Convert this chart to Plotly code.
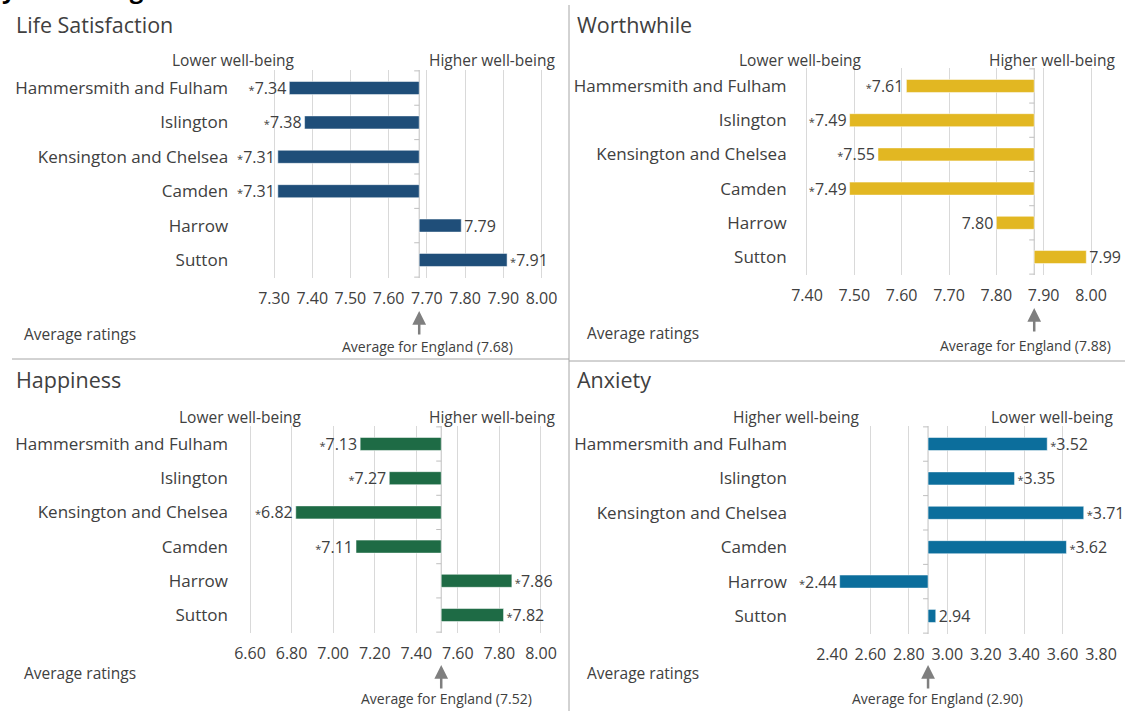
import plotly.graph_objects as go

W, H = 1125, 711

# ---------------- data ----------------
boroughs = ["Hammersmith and Fulham", "Islington", "Kensington and Chelsea",
            "Camden", "Harrow", "Sutton"]

life_values = [7.34, 7.38, 7.31, 7.31, 7.79, 7.91]
life_sig = [True, True, True, True, False, True]
life_avg = 7.68

worth_values = [7.61, 7.49, 7.55, 7.49, 7.80, 7.99]
worth_sig = [True, True, True, True, False, False]
worth_avg = 7.88

happy_values = [7.13, 7.27, 6.82, 7.11, 7.86, 7.82]
happy_sig = [True, True, True, True, True, True]
happy_avg = 7.52

anx_values = [3.52, 3.35, 3.71, 3.62, 2.44, 2.94]
anx_sig = [True, True, True, True, True, False]
anx_avg = 2.90

titles = ["Life Satisfaction", "Worthwhile", "Happiness", "Anxiety"]
left_labels = ["Lower well-being", "Lower well-being", "Lower well-being", "Higher well-being"]
right_labels = ["Higher well-being", "Higher well-being", "Higher well-being", "Lower well-being"]
x_ticks = [
    [7.30, 7.40, 7.50, 7.60, 7.70, 7.80, 7.90, 8.00],
    [7.40, 7.50, 7.60, 7.70, 7.80, 7.90, 8.00],
    [6.60, 6.80, 7.00, 7.20, 7.40, 7.60, 7.80, 8.00],
    [2.40, 2.60, 2.80, 3.00, 3.20, 3.40, 3.60, 3.80],
]
colors = ["#1F4E79", "#E2B722", "#1E6B45", "#0C6E9C"]

panels_data = [
    (life_values, life_sig, life_avg),
    (worth_values, worth_sig, worth_avg),
    (happy_values, happy_sig, happy_avg),
    (anx_values, anx_sig, anx_avg),
]

# ---------------- layout geometry (pixels) ----------------
FONT = "Open Sans"
TXT = "#404040"

geo = [
    dict(xr=[7.295, 8.005], xd=[272.1, 543.4], yd=[70, 278], so=43,
         lowc=233, highc=492, arrow_y=(311, 336), avgtxt=(428, 346), avgr=(22, 334)),
    dict(xr=[7.395, 8.005], xd=[804.6, 1093.4], yd=[68, 275], so=17,
         lowc=800, highc=1052, arrow_y=(308, 333), avgtxt=(1025, 345), avgr=(585, 333)),
    dict(xr=[6.595, 8.005], xd=[249.0, 542.0], yd=[426, 633], so=20,
         lowc=240, highc=492, arrow_y=(665, 690), avgtxt=(446, 698), avgr=(22, 673)),
    dict(xr=[2.395, 3.805], xd=[831.0, 1102.0], yd=[426, 634], so=43,
         lowc=796, highc=1052, arrow_y=(665, 690), avgtxt=(937, 698), avgr=(585, 673)),
]
title_pos = [(14, 25), (575, 25), (14, 380), (575, 380)]
header_y = [60, 60, 417, 417]


def px(x):
    return x / W


def py(y):
    return 1 - y / H


fig = go.Figure()
layout = dict(
    template="none",
    width=W, height=H,
    margin=dict(l=0, r=0, t=0, b=0, autoexpand=False),
    paper_bgcolor="white", plot_bgcolor="white",
    showlegend=False,
    font=dict(family=FONT, color=TXT, size=15),
)
annotations = []
shapes = []

STAR = "<span style='font-size:11px'>*</span>"

for i, ((vals, sig, avg), g) in enumerate(zip(panels_data, geo)):
    n = "" if i == 0 else str(i + 1)
    xa, ya = "x" + n, "y" + n
    labels = [(STAR if s else "") + f"{v:.2f}" for v, s in zip(vals, sig)]
    fig.add_trace(go.Bar(
        orientation="h",
        y=boroughs,
        x=[round(v - avg, 4) for v in vals],
        base=avg,
        width=0.38,
        marker=dict(color=colors[i], line=dict(color="rgba(255,255,255,0.5)", width=1)),
        text=labels,
        textposition="outside",
        constraintext="none",
        cliponaxis=False,
        textfont=dict(family=FONT, size=16, color=TXT),
        xaxis=xa, yaxis=ya,
        hoverinfo="skip",
    ))
    layout["xaxis" + n] = dict(
        domain=[px(g["xd"][0]), px(g["xd"][1])],
        range=g["xr"],
        anchor=ya,
        automargin=False,
        tickvals=x_ticks[i],
        ticktext=[f"{t:.2f}" for t in x_ticks[i]],
        showgrid=True, gridcolor="#D9D9D9", gridwidth=1,
        zeroline=False, showline=False, ticks="",
        ticklabelstandoff=9,
        tickfont=dict(family=FONT, size=16, color=TXT),
        fixedrange=True,
    )
    layout["yaxis" + n] = dict(
        domain=[py(g["yd"][1]), py(g["yd"][0])],
        range=[5.525, -0.525],
        anchor=xa,
        automargin=False,
        type="category",
        categoryorder="array", categoryarray=boroughs,
        showgrid=False, zeroline=False, showline=False, ticks="",
        ticklabelstandoff=g["so"],
        tickfont=dict(family=FONT, size=17, color=TXT),
        fixedrange=True,
    )
    # vertical axis line at the England average, with small ticks between categories
    shapes.append(dict(type="line", xref=xa, yref=ya, x0=avg, x1=avg, y0=-0.525, y1=5.525,
                       line=dict(color="#BFBFBF", width=1), layer="below"))
    for k in range(7):
        shapes.append(dict(type="line", xref=xa, yref=ya, xsizemode="pixel", xanchor=avg,
                           x0=-5, x1=0, y0=k - 0.5, y1=k - 0.5,
                           line=dict(color="#BFBFBF", width=1), layer="below"))
    # panel title
    tx, ty = title_pos[i]
    annotations.append(dict(text=titles[i], x=px(tx), y=py(ty), xref="paper", yref="paper",
                            xanchor="left", yanchor="middle", showarrow=False,
                            font=dict(family=FONT, size=21.5, color=TXT)))
    # headers
    annotations.append(dict(text=left_labels[i], x=px(g["lowc"]), y=py(header_y[i]),
                            xref="paper", yref="paper", xanchor="center", yanchor="middle",
                            showarrow=False, font=dict(family=FONT, size=15.5, color=TXT)))
    annotations.append(dict(text=right_labels[i], x=px(g["highc"]), y=py(header_y[i]),
                            xref="paper", yref="paper", xanchor="center", yanchor="middle",
                            showarrow=False, font=dict(family=FONT, size=15.5, color=TXT)))
    # "Average ratings"
    annotations.append(dict(text="Average ratings", x=px(g["avgr"][0]), y=py(g["avgr"][1]),
                            xref="paper", yref="paper", xanchor="left", yanchor="middle",
                            showarrow=False, font=dict(family=FONT, size=15.5, color=TXT)))
    # arrow to the England average
    a0, a1 = g["arrow_y"]
    annotations.append(dict(text="", x=avg, xref=xa, y=py(a0), yref="paper",
                            showarrow=True, ax=0, ay=a1 - a0, axref="pixel", ayref="pixel",
                            arrowhead=2, arrowsize=1.1, arrowwidth=2.5, arrowcolor="#7F7F7F",
                            standoff=0, startstandoff=0))
    annotations.append(dict(text=f"Average for England ({avg:.2f})",
                            x=px(g["avgtxt"][0]), y=py(g["avgtxt"][1]),
                            xref="paper", yref="paper", xanchor="center", yanchor="middle",
                            showarrow=False, font=dict(family=FONT, size=14, color=TXT)))

# panel separators
shapes.append(dict(type="line", xref="paper", yref="paper", x0=px(569), x1=px(569),
                   y0=py(5), y1=py(711), line=dict(color="#A6A6A6", width=1)))
shapes.append(dict(type="line", xref="paper", yref="paper", x0=px(12), x1=px(569),
                   y0=py(359), y1=py(359), line=dict(color="#A6A6A6", width=1)))
shapes.append(dict(type="line", xref="paper", yref="paper", x0=px(569), x1=px(1125),
                   y0=py(361), y1=py(361), line=dict(color="#A6A6A6", width=1)))

# cut-off heading at very top (only its descenders are visible in the source image)
annotations.append(dict(text="<b>year ending March 2015</b>", x=0, y=py(7), xref="paper",
                        yref="paper", xanchor="left", yanchor="bottom", showarrow=False,
                        font=dict(family=FONT, size=24, color="#000000")))

layout["annotations"] = annotations
layout["shapes"] = shapes
fig.update_layout(**layout)
fig.write_html("out.html",
               config={"displayModeBar": False, "staticPlot": True},
               post_script="document.body.style.margin='0';document.body.style.overflow='hidden';")
